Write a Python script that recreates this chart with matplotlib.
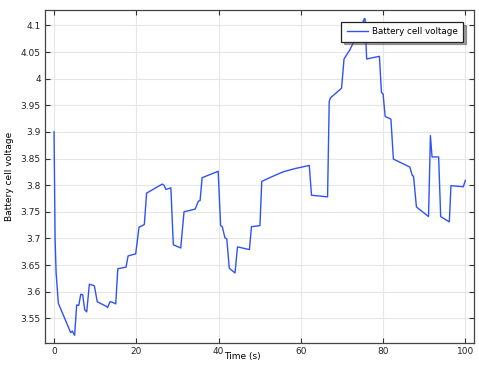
import matplotlib
matplotlib.use("Agg")
import matplotlib.pyplot as plt

time_s = [0.0, 0.25, 0.5, 1.05, 4.05, 4.45, 4.7, 5.0, 5.5, 6.0, 6.5, 6.97, 7.45, 7.94,
          8.59, 9.8, 10.5, 12.8, 13.0, 13.6, 14.2, 15.0, 15.5, 16.85, 17.5, 18.0,
          19.85, 20.66, 21.95, 22.5, 26.3, 26.7, 27.2, 28.4, 29.0, 30.8, 31.6, 34.3,
          35.1, 35.5, 36.0, 39.9, 40.5, 40.9, 41.55, 42.0, 42.6, 44.0, 44.6, 47.5,
          48.0, 50.06, 50.5, 53.0, 55.7, 58.5, 62.05, 62.6, 66.5, 66.9, 67.2, 69.9,
          70.5, 71.9, 72.6, 74.0, 75.4, 75.6, 76.0, 79.1, 79.6, 80.0, 80.5, 81.9,
          82.5, 86.5, 87.1, 87.4, 88.1, 91.05, 91.5, 91.9, 93.5, 94.0, 96.1, 96.5,
          99.5, 100.0]
voltage = [3.9, 3.70, 3.635, 3.578, 3.523, 3.526, 3.522, 3.518, 3.575, 3.574, 3.595,
           3.594, 3.566, 3.562, 3.614, 3.611, 3.581, 3.572, 3.570, 3.581, 3.580,
           3.577, 3.643, 3.645, 3.646, 3.667, 3.671, 3.721, 3.726, 3.785, 3.802,
           3.800, 3.792, 3.795, 3.688, 3.682, 3.750, 3.755, 3.770, 3.771, 3.814,
           3.826, 3.724, 3.722, 3.701, 3.699, 3.644, 3.635, 3.684, 3.679, 3.722,
           3.724, 3.807, 3.816, 3.825, 3.831, 3.837, 3.781, 3.778, 3.957, 3.964,
           3.982, 4.037, 4.054, 4.065, 4.085, 4.112, 4.113, 4.037, 4.042, 3.974,
           3.971, 3.929, 3.924, 3.849, 3.834, 3.818, 3.817, 3.759, 3.741, 3.893,
           3.853, 3.853, 3.741, 3.731, 3.799, 3.797, 3.809]

x_ticks = [0, 20, 40, 60, 80, 100]
y_ticks = [3.55, 3.6, 3.65, 3.7, 3.75, 3.8, 3.85, 3.9, 3.95, 4.0, 4.05, 4.1]
y_tick_labels = ["3.55", "3.6", "3.65", "3.7", "3.75", "3.8", "3.85", "3.9",
                 "3.95", "4", "4.05", "4.1"]

plt.rcParams['font.family'] = ['DejaVu Sans']

fig = plt.figure(figsize=(4.79, 3.66), dpi=100)
ax = fig.add_axes([45/479, 23/366, 429/479, 333/366])

ax.plot(time_s, voltage, color='#3152f5', lw=1.0, label='Battery cell voltage')

ax.set_xlim(-2.2, 102.1)
ax.set_ylim(3.5035, 4.129)
ax.set_xticks(x_ticks)
ax.set_yticks(y_ticks)
ax.set_yticklabels(y_tick_labels)
ax.grid(True, color='#e6e6e6', lw=0.8)
ax.set_axisbelow(True)
ax.tick_params(direction='in', length=3.5, width=0.8, labelsize=6.5,
               top=True, right=True, colors='#333333', labelcolor='#222222', pad=3)
for s in ax.spines.values():
    s.set_color('#444444')
    s.set_linewidth(0.9)

ax.set_xlabel('Time (s)', fontsize=6.5)
ax.set_ylabel('Battery cell voltage', fontsize=6.5)
ax.xaxis.set_label_coords((242 - 45) / 429, (343 - 357) / 333)
ax.yaxis.set_label_coords((10 - 45) / 429, 0.5)
ax.xaxis.label.set_verticalalignment('center')
ax.yaxis.label.set_verticalalignment('center')

leg = ax.legend(loc='upper right',
                bbox_to_anchor=((463 - 45) / 429, 1 - (22 - 10) / 333),
                bbox_transform=ax.transAxes, borderaxespad=0,
                fontsize=6.3, frameon=True,
                fancybox=False, shadow=True, edgecolor='#222222',
                handlelength=2.4, handletextpad=0.5, borderpad=0.6, framealpha=1)
leg.get_frame().set_linewidth(0.9)

fig.savefig('out.png', dpi=100)
